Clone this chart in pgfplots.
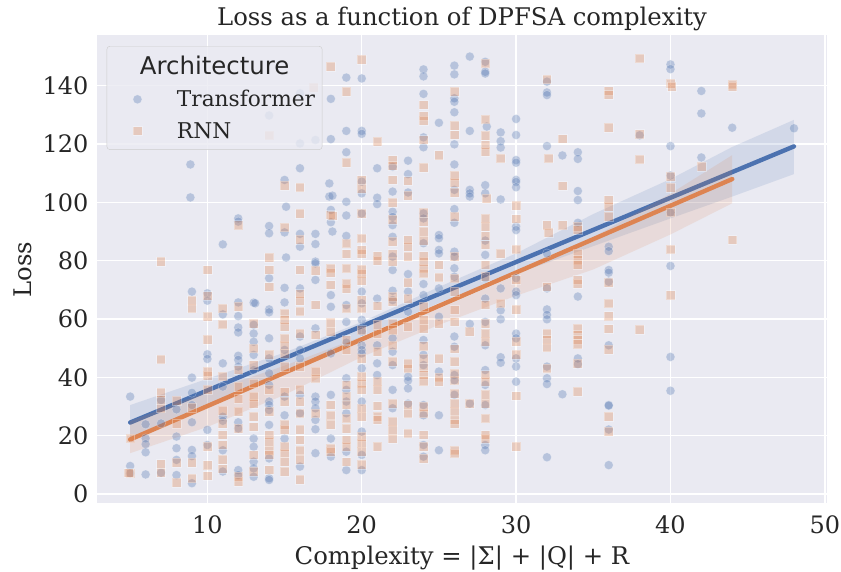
\documentclass[border=0pt]{standalone}
\usepackage{pgfplots}
\pgfplotsset{compat=1.18}
\usepackage{fontspec}
\setmainfont{DejaVu Serif}
\newfontfamily\legsans{DejaVu Sans}
\definecolor{tblue}{HTML}{4C72B0}
\definecolor{rorange}{HTML}{DD8452}
\definecolor{bggray}{HTML}{EAEAF2}
\definecolor{txt}{HTML}{262626}
\begin{document}
\begin{tikzpicture}
\useasboundingbox (-97pt,-68pt) rectangle (744pt,504pt);
\begin{axis}[
scale only axis,
width=730pt, height=469pt,
xmin=2.85, xmax=50.14,
ymin=-3.43, ymax=157.4,
axis background/.style={fill=bggray},
axis line style={white, line width=1pt},
xtick={10,20,30,40,50},
ytick={0,20,40,60,80,100,120,140},
major tick length=0pt,
grid=major,
grid style={white, line width=1.4pt},
tick label style={font=\fontsize{24}{28}\selectfont, text=txt},
/pgf/number format/assume math mode=true,
xticklabel style={yshift=-8pt},
yticklabel style={xshift=-5pt},
xlabel={Complexity = |Σ| + |Q| + R},
ylabel={Loss},
label style={font=\fontsize{24.3}{28}\selectfont, text=txt},
xlabel style={yshift=-5pt},
ylabel style={yshift=4pt},
title={Loss as a function of DPFSA complexity},
title style={font=\fontsize{24.3}{28}\selectfont, text=txt, yshift=-5pt},
legend style={at={(axis cs:3.48,153.6)}, anchor=north west, fill=bggray, fill opacity=0.8, draw opacity=1, text opacity=1,
  draw=black!20, rounded corners=3pt, font=\fontsize{21.7}{26}\selectfont, text=txt,
  row sep=10pt, inner xsep=22pt, inner ysep=8pt},
legend cell align=left,
clip=true,
]
\addlegendimage{empty legend}
\addlegendentry{\hspace*{-4pt}{\legsans\fontsize{24.4}{28}\selectfont Architecture}}

\addplot[only marks, mark=*, mark size=4.5pt, mark options={fill=tblue, draw=white, line width=0.5pt, opacity=0.32}] coordinates {
(5,33.4)(5,9.6)(5,7.1)
(6,23.9)(6,19.1)(6,17.1)(6,14.3)(6,6.7)
(7,24.2)(7,32.2)(7,7.3)
(8,29)(8,15.7)(8,11.7)(8,6.5)(8,19.7)
(8.9,113)(8.9,101.7)(9,69.4)(9,39.9)(9,34.7)(9,30.5)(9,24.6)(9,15.1)(9,13)(9,3.7)
(10,68.8)(10,66.3)(10,47.9)(10,46.3)(10,22)(10,16.8)
(11,85.6)(11,61.6)(11,44.8)(11,36.8)(11,26.5)(11,25.1)(11,15)(11,7.7)
(12,94.5)(12,93.4)(12,65.7)(12,61)(12,57.1)(12,55.4)(12,47.4)(12,46)(12,43.7)(12,24.6)(12,22.5)(12,8.2)(12,6.5)
(13,65.6)(13.1,65.4)(13,58)(13,55)(13,52.2)(13,47.7)(13,42.5)(13,19)(13,16.2)(13,11.1)(13,8.8)(13,5.9)
(14,129.8)(14,91.9)(14,89.4)(14,74)(14,63.3)(14,62.3)(14,53.4)(14,46.5)(14,41.4)(14,37.4)(14,31.7)(14,30.5)(14,28.8)(14,23.7)(14,12.2)(14,5.4)(14,4.8)
(15,107.7)(15.1,98.5)(15,89.7)(15.1,81.1)(15,70.7)(15,65.7)(15,49.4)(15,33.4)(15,27)(15,19)
(16,137.4)(16,120.2)(16,111.7)(16,89.2)(16,84.8)(16,70.5)(16,54)(16,49.4)(16,46.5)(16,34)(16,27.7)(16,9.4)
(17,121.4)(17,89.2)(17,85.7)(17,79.7)(17,79.1)(17,73.4)(17,56.8)(17,33.4)(17,31.7)(17,29.4)(17,25.4)(17,22.2)(17,14)
(18,135.5)(18,121.7)(17.9,106.5)(17.9,102)(18.1,102.3)(18,97.4)(18,93.2)(18.1,90)(18,68.2)(18,64.2)(18,48.2)(18,34)(18,19)(18,12.8)
(19,142.8)(19,124.5)(19,117.2)(19,100.2)(19,95.5)(19,88.5)(19,64.8)(19,59)(19,51.9)(19,39.7)(19,35.7)(19,31.7)(19,27.7)(19,14.5)(19,8.2)
(20,142.5)(20,124.5)(20,123.5)(20,107.1)(20,103.1)(20,96.2)(20,69.4)(20,65.4)(20,59.7)(20,55.7)(20,51)(20,49.4)(20,48.2)(20,43.1)(20,31.7)(20,21.4)(20,13.4)(20,8.2)
(21,111.7)(21,101.6)(21,99.4)(21,67)(21,51)(21,44.8)(21,40.8)
(22,112.2)(22,103.7)(22,96.8)(22,95)(22,92.2)(22,88.2)(22,81.4)(22,76.8)(22,69.7)(22,66.5)(22,53.4)(22,48.8)(22,44.2)(22,35.7)(22,29.4)
(23,114.3)(23,109.7)(23,103.4)(23,75.4)(23,69.4)(23,62.5)(23,40.2)(23,38.9)(23,36.2)(23,31)
(24,145.6)(24,143.2)(24,137.2)(24,122.3)(24,118.9)(24,96.2)(24,94.5)(24,86)(24,72)(24,68.2)(24,52.8)(24,47.7)(24,44.2)(24,30.5)(24,27)(24,16.8)(24,12.8)
(25,127.3)(25,88.8)(25,87.7)(25,83.7)(25,82.5)(25,70.5)(25,60.8)(25,42)(25,27)(25,15)
(26,146.9)(26,143.9)(26,135.7)(26,134.5)(26,130.9)(26,119.9)(26,113)(26,104.3)(26,97.7)(26,93)(26,83.1)(26,81.4)(26,77.4)(26,74.5)(26,54)(26,50.5)(26,40.8)(26,39)(26,34)
(27,150)(27,124.5)(27,104.3)(27,103.1)(27,102)(27,58.3)(27,31)
(28,148.2)(28,144.8)(28,144.2)(28.1,126)(28,105.9)(28,103.1)(28,86.9)(28,82)(28,74)(28,67)(28,59)(28,51)(28,42.5)(28,37.4)(28,30.5)(28,16.8)(28,15)
(29,124)(29,121)(29,118.8)(29,101)(29,70.5)(29,63)(29,59.9)(29,46.9)(29,45)
(30,128.6)(30,123.1)(30,114.5)(30,113.6)(30,107.7)(30,107)(30,105.2)(30,91.7)(30,90.5)(30,74)(30,69.4)(30,68.2)(30,55)(30,53.4)(30,46.5)(30,43.7)(30,38.5)
(32,141.4)(32,137.7)(32,136.8)(32,119.3)(32,82.5)(32,70.5)(32,63.3)(32,61.4)(32,59.9)(32,43.7)(32,39.7)(32,37.7)(32,12.6)
(33,116.1)(33,34.2)
(34,117.2)(34,114.9)(34,103.9)(34,100.8)(34,93)(34,67.7)(34,46.5)(34,44.5)
(36,84.8)(36,83.3)(36,76.8)(36,75.9)(36,72.8)(36,51)(36,30.5)(36,30.3)(36,22.1)(36,9.9)
(38,123)
(40,147.3)(40,145.7)(40,119.3)(40,109.2)(40,96.5)(40,78.2)(40,47)(40,35.4)
(42,138.2)(42,130.5)(42,115.4)
(44,125.6)
(48,125.4)
};
\addlegendentry{\hspace*{33pt}Transformer\hspace*{-17pt}}

\addplot[only marks, mark=square*, mark size=4.4pt, mark options={fill=rorange, draw=white, line width=0.5pt, opacity=0.32}] coordinates {
(5,19.1)(5,7.1)(4.9,7.2)
(7,79.7)(7,46.2)(7,34.7)(7,32.2)(7,29.4)(7,7.3)(7,10.3)
(8,32)(8,24.2)(8,10.7)(8,3.9)
(9,66.3)(9,63.7)(9,29.7)(9,10.7)(9,5.4)
(10,76.8)(10,67.9)(10,60.8)(10,53)(10,42)(10,40.6)(10,35.7)(10,16.2)(10,9.9)(10,6.2)
(11,63.7)(11,58.2)(11,40.4)(11,28.6)(11,24.2)(11,20.2)(11,16.8)(11,11.7)(11,8.6)
(12,92.2)(12,64.2)(12,42.5)(12,36.8)(12,32.6)(12,28.2)(12,22.5)(12,6)(12,4.2)
(13,58.5)(13,50)(13,44.2)(13,38)(13,33.4)(13,31)(13,26.5)(13,23)(13,13.4)(13,7.7)
(14,123)(14,81)(14,76.8)(14,71)(14,47.7)(14,35.7)(14,28.2)(14,20.2)(14,18)(14,15)(14,13.4)(14,8.2)
(15,105.7)(15,91.5)(15,62)(15,59.7)(15,57.4)(15,53.4)(15,51)(15,48.2)(15,43.7)(15,35)(15,31.7)(15,23.7)(15,22)(15,16.2)(15,14)(15,11)(15,7.7)
(16,105.2)(16,96.2)(16,87.3)(16,76.8)(16,68.6)(16,66.3)(16,62.7)(16,55)(16,43.7)(16,35.7)(16,31.7)(16,27.7)(16,22)(16,18.5)(16,15)(16,11.7)(16,5)
(16.9,139.4)(17,76.6)(17,64.8)(17,54.5)(17,42)(17,39.7)(17,27.7)
(18,146.5)(18,95.7)(18.1,95.3)(18,77.4)(18,76)(18,71.7)(18,58.7)(18,55.7)(18,30.5)(18,27)(18,23.7)(18,15.6)(18,14.5)
(19,138)(19,113.7)(19,86)(19,82.3)(19,77.4)(19,72.2)(19,70.5)(19,63.7)(19,52.8)(19,49.4)(19,37.4)(19,33.4)(19,30.5)(19,26)(19,22.5)(19,18.5)(19,16.2)(19,11)
(20,149)(20,107.7)(20,104.8)(20,96.2)(20,87.7)(20,83.7)(20,82.5)(20,77)(20,75.7)(20,73.1)(20,66.5)(20,63.7)(20,56.2)(20,46.5)(20,40.2)(20,38)(20,35.7)(20,29.4)(20,26.5)(20,19.7)(20,17.4)(20,14.5)(20,10)
(21,120.8)(21,81.6)(21,80)(21,64.5)(21,58)(21,55)(21,48.8)(21,38.5)(21,35.7)(21,30.2)(21,26.5)(21,25.4)(21,16.2)
(22,114.5)(22,112.5)(22,107.7)(22,99.9)(22,94)(22,86.5)(22,82.3)(22,79.7)(22,67.7)(22,66)(22,58.5)(22,56.2)(22,51)(22,45.4)(22,31)(22,24.8)(22,22)(22,19)
(23,107.3)(23,102.3)(23,87.1)(23,84.8)(23,81.4)(23,72.5)(23,67)(23,57.4)(23,44.8)(23,43.1)(23,30.5)(23,27.7)(23,20.8)
(24,133.4)(24,129.6)(24,128)(24,121.4)(24,111.9)(24,96.5)(24,93.4)(24,90)(24,86.9)(24,81.6)(24,79.7)(24,77.4)(24,75.7)(24,64.2)(24,59.7)(24,56.8)(24,50.7)(24,46.5)(24,43.3)(24,40.8)(24,38.7)(24,30)(24,27.7)(24,20.2)(24,16.2)(24,12.2)
(25,116.2)(25,78.5)(25,74.3)(25,58.5)(25,46.5)(25,40)(25,38.5)
(26,138)(26,126.3)(26,123.1)(26,109.2)(26,106.8)(26,103.4)(26,95.1)(26,81.4)(26,74)(26,69.4)(26,63.1)(26,59)(26,49.7)(26,45.4)(26,41.4)(26,39)(26,34.5)(26,31)(26,28.2)(26,25.4)(26,24)(26,15)(26,14)
(27,55.7)(27,31)
(28,147.7)(28,128.5)(28,122.8)(28,119.7)(28,117.4)(28.1,101.2)(28,94.5)(28,91.7)(28,88.5)(28,85.4)(28,78.5)(28,74.5)(28,64.8)(28,58.5)(28,55)(28,52.2)(28,40.8)(28,38.5)(28,34)(28,31)(28,26)(28,20.2)(28,19)
(29,115.1)(29,82.5)(29,65.4)
(30,98.9)(30,94.3)(30,83.9)(30,73.4)(30,63.3)(30,52.2)(30,47.7)(30,33.6)(30,16.2)
(32,142.2)(32.1,115.1)(32,92.2)(32.1,89.6)(32,71)(32,55)(32,52.8)(32,50.3)(32,43.1)
(33,121.7)(33,105.6)(33,92.2)
(34,91.7)(34,90.5)(34,82.5)(34,80.2)(34,78.5)(34,73.4)(34,72.2)(34,56.8)(34,54.5)(34,52.8)(34,51.4)(34,44.8)(34,35.1)
(36,138.2)(36,136.8)(36,125.6)(36,100.8)(36,98.5)(36,95.1)(36,72.5)(36,65.4)(36,61)(36,56.6)(36,49.6)(36,26.5)(36,21.4)
(38,149.4)(38,123.4)(38,114.8)(38,56.4)
(40,140.8)(40.1,139.7)(40,108.8)(40,105)(40,96.6)(40,83.9)(40,68.2)
(42,112.2)
(44,140.5)(44,139.7)(44,87.1)
};
\addlegendentry{\hspace*{33pt}RNN}

% regression bands
\addplot[forget plot, fill=tblue, fill opacity=0.15, draw=none] coordinates {
(5,30.5)(10,39.5)(15,48.5)(20,59)(25,71)(30,82.5)(35,96)(40,108)(44,119)(48,128.3)
(48,109.7)(44,102)(40,94.5)(35,85)(30,75.5)(25,65.5)(20,54)(15,42)(10,30)(5,19)
} --cycle;
\addplot[forget plot, line width=4.4pt, color=tblue, line cap=round] coordinates {(5,24.5)(48,119.2)};
\addplot[forget plot, fill=rorange, fill opacity=0.15, draw=none] coordinates {
(5,25)(10,35)(15,44)(20,54)(25,63.5)(30,75)(35,88)(40,103)(44,116.2)
(44,99.7)(40,89)(35,77)(30,68)(25,58)(20,47)(15,34)(10,23)(5,14)
} --cycle;
\addplot[forget plot, line width=4.4pt, color=rorange, line cap=round] coordinates {(5,18.7)(44,108)};
\end{axis}
\end{tikzpicture}
\end{document}
